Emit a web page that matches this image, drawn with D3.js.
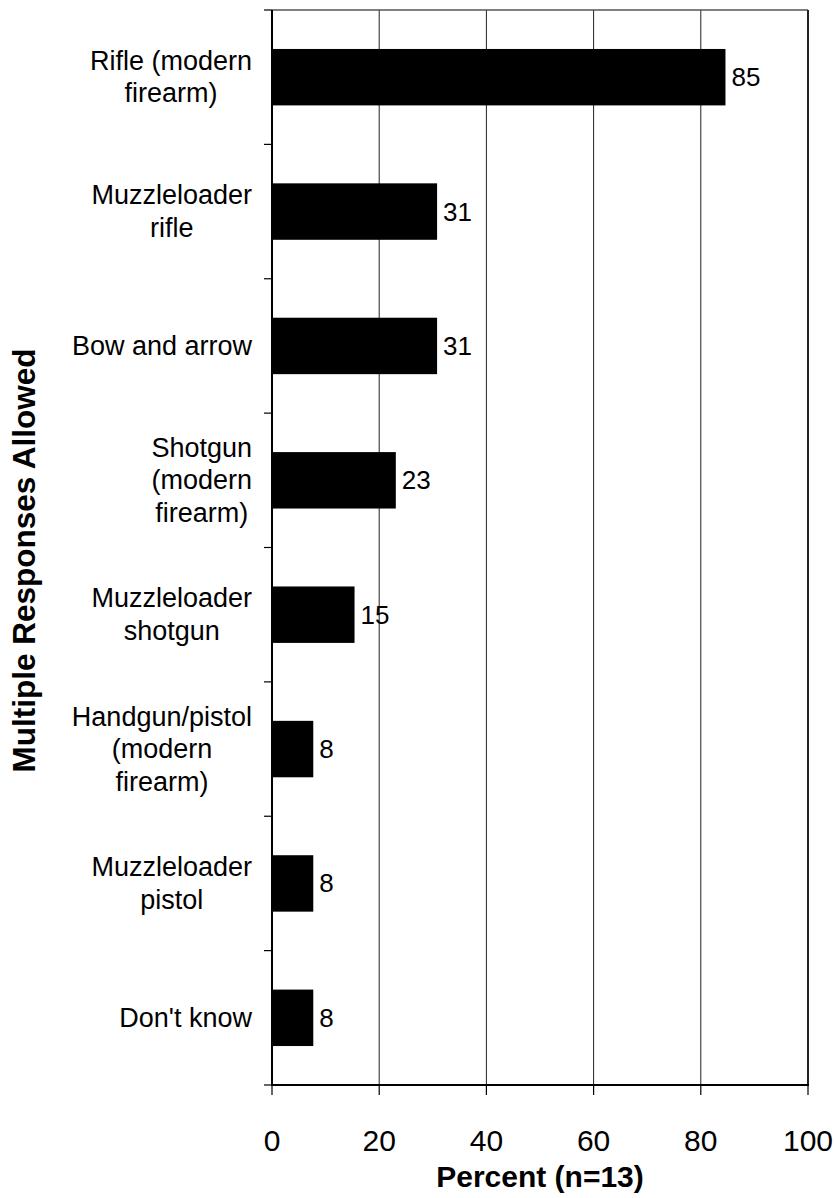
<!DOCTYPE html>
<html>
<head>
<meta charset="utf-8">
<script src="https://cdn.jsdelivr.net/npm/d3@7"></script>
<style>
  html, body { margin: 0; padding: 0; background: #fff; }
  svg { display: block; font-family: "Liberation Sans", Arial, sans-serif; }
</style>
</head>
<body>
<svg id="chart" width="835" height="1198"></svg>
<script>
// ---- data ----
const categories = [
  ["Rifle (modern", "firearm)"],
  ["Muzzleloader", "rifle"],
  ["Bow and arrow"],
  ["Shotgun", "(modern", "firearm)"],
  ["Muzzleloader", "shotgun"],
  ["Handgun/pistol", "(modern", "firearm)"],
  ["Muzzleloader", "pistol"],
  ["Don't know"]
];
const values = [84.6, 30.8, 30.8, 23.1, 15.4, 7.7, 7.7, 7.7];
const xTicks = [0, 20, 40, 60, 80, 100];
const xTitle = "Percent (n=13)";
const yTitle = "Multiple Responses Allowed";

// ---- layout ----
const svg = d3.select("#chart");
const pL = 272, pR = 808, pT = 10, pB = 1085;

const x = d3.scaleLinear().domain([0, 100]).range([pL, pR]);
const y = d3.scaleBand().domain(d3.range(categories.length)).range([pT, pB])
  .paddingInner(0.58).paddingOuter(0.29);
const step = y.step();

// gridlines
svg.append("g").selectAll("line").data(xTicks.filter(t => t > 0 && t < 100)).join("line")
  .attr("x1", d => x(d)).attr("x2", d => x(d)).attr("y1", pT).attr("y2", pB)
  .attr("stroke", "#222").attr("stroke-width", 1);

// top border
svg.append("line").attr("x1", pL).attr("x2", pR).attr("y1", pT).attr("y2", pT)
  .attr("stroke", "#555").attr("stroke-width", 1.5);
// right border
svg.append("line").attr("x1", pR).attr("x2", pR).attr("y1", pT).attr("y2", pB)
  .attr("stroke", "#222").attr("stroke-width", 2);

// bars
svg.append("g").selectAll("rect").data(values).join("rect")
  .attr("x", x(0)).attr("y", (d, i) => y(i))
  .attr("width", d => x(d) - x(0)).attr("height", y.bandwidth())
  .attr("fill", "#000");

// value labels
const fmt = d3.format(".0f");
svg.append("g").selectAll("text").data(values).join("text")
  .attr("x", d => x(d) + 6).attr("y", (d, i) => y(i) + y.bandwidth() / 2)
  .attr("dominant-baseline", "central")
  .attr("font-size", 26).attr("fill", "#000")
  .text(d => fmt(d));

// left axis line and ticks
svg.append("line").attr("x1", pL).attr("x2", pL).attr("y1", pT).attr("y2", pB + 1)
  .attr("stroke", "#000").attr("stroke-width", 2);
svg.append("g").selectAll("line").data(d3.range(categories.length + 1)).join("line")
  .attr("x1", pL - 8).attr("x2", pL).attr("y1", i => pT + i * step).attr("y2", i => pT + i * step)
  .attr("stroke", "#000").attr("stroke-width", 1.2);

// bottom axis line and ticks
svg.append("line").attr("x1", pL - 1).attr("x2", pR + 1).attr("y1", pB).attr("y2", pB)
  .attr("stroke", "#000").attr("stroke-width", 2);
svg.append("g").selectAll("line").data(xTicks).join("line")
  .attr("x1", d => x(d)).attr("x2", d => x(d)).attr("y1", pB).attr("y2", pB + 10)
  .attr("stroke", "#000").attr("stroke-width", 1.2);
svg.append("g").selectAll("text").data(xTicks).join("text")
  .attr("x", d => x(d)).attr("y", 1151)
  .attr("text-anchor", "middle").attr("font-size", 30).attr("fill", "#000")
  .text(d => d);

// category labels
const lineH = 32.5;
const labelRight = 252;
const catG = svg.append("g");
categories.forEach((lines, i) => {
  const cy = y(i) + y.bandwidth() / 2;
  const t = catG.append("text").attr("font-size", 27).attr("fill", "#000")
    .attr("text-anchor", "middle");
  const n = lines.length;
  lines.forEach((ln, k) => {
    t.append("tspan").attr("y", cy + (k - (n - 1) / 2) * lineH)
      .attr("dominant-baseline", "central").text(ln);
  });
  let maxW = 0;
  t.selectAll("tspan").each(function() { maxW = Math.max(maxW, this.getComputedTextLength()); });
  t.selectAll("tspan").attr("x", labelRight - maxW / 2);
});

// axis titles
svg.append("text").attr("x", (pL + pR) / 2).attr("y", 1187)
  .attr("text-anchor", "middle").attr("font-size", 30).attr("font-weight", "bold")
  .text(xTitle);
svg.append("text").attr("transform", `translate(35, ${(pT + pB) / 2 + 13}) rotate(-90)`)
  .attr("text-anchor", "middle").attr("font-size", 31.5).attr("font-weight", "bold")
  .text(yTitle);
</script>
</body>
</html>
